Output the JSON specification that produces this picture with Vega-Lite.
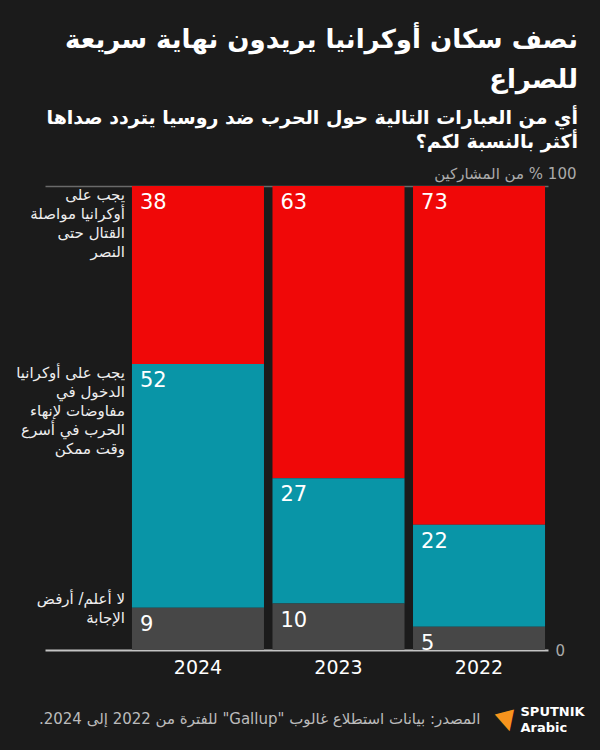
{
  "$schema": "https://vega.github.io/schema/vega-lite/v6.json",
  "autosize": {"type": "none"},
  "width": 503,
  "height": 464,
  "padding": {"left": 45, "top": 186, "right": 52, "bottom": 100},
  "background": "#1b1b1b",
  "config": {"view": {"stroke": null}, "font": "DejaVu Sans"},
  "title": {
    "text": ["نصف سكان أوكرانيا يريدون نهاية سريعة", "للصراع"],
    "subtitle": ["أي من العبارات التالية حول الحرب ضد روسيا يتردد صداها", "أكثر بالنسبة لكم؟"],
    "anchor": "end",
    "frame": "group",
    "dx": 30,
    "color": "#ffffff",
    "font": "DejaVu Sans",
    "fontSize": 26,
    "fontWeight": "bold",
    "lineHeight": 40,
    "subtitleColor": "#ffffff",
    "subtitleFont": "DejaVu Sans",
    "subtitleFontSize": 19,
    "subtitleFontWeight": "bold",
    "subtitleLineHeight": 24,
    "subtitlePadding": 16,
    "offset": 14
  },
  "data": {
    "values": [
      {"year": "2024", "category": "يجب على أوكرانيا مواصلة القتال حتى النصر", "label": "يجب على\nأوكرانيا مواصلة\nالقتال حتى\nالنصر", "order": 3, "value": 38},
      {"year": "2024", "category": "يجب على أوكرانيا الدخول في مفاوضات لإنهاء الحرب في أسرع وقت ممكن", "label": "يجب على أوكرانيا\nالدخول في\nمفاوضات لإنهاء\nالحرب في أسرع\nوقت ممكن", "order": 2, "value": 52},
      {"year": "2024", "category": "لا أعلم/ أرفض الإجابة", "label": "لا أعلم/ أرفض\nالإجابة", "order": 1, "value": 9},
      {"year": "2023", "category": "يجب على أوكرانيا مواصلة القتال حتى النصر", "label": "يجب على\nأوكرانيا مواصلة\nالقتال حتى\nالنصر", "order": 3, "value": 63},
      {"year": "2023", "category": "يجب على أوكرانيا الدخول في مفاوضات لإنهاء الحرب في أسرع وقت ممكن", "label": "يجب على أوكرانيا\nالدخول في\nمفاوضات لإنهاء\nالحرب في أسرع\nوقت ممكن", "order": 2, "value": 27},
      {"year": "2023", "category": "لا أعلم/ أرفض الإجابة", "label": "لا أعلم/ أرفض\nالإجابة", "order": 1, "value": 10},
      {"year": "2022", "category": "يجب على أوكرانيا مواصلة القتال حتى النصر", "label": "يجب على\nأوكرانيا مواصلة\nالقتال حتى\nالنصر", "order": 3, "value": 73},
      {"year": "2022", "category": "يجب على أوكرانيا الدخول في مفاوضات لإنهاء الحرب في أسرع وقت ممكن", "label": "يجب على أوكرانيا\nالدخول في\nمفاوضات لإنهاء\nالحرب في أسرع\nوقت ممكن", "order": 2, "value": 22},
      {"year": "2022", "category": "لا أعلم/ أرفض الإجابة", "label": "لا أعلم/ أرفض\nالإجابة", "order": 1, "value": 5}
    ]
  },
  "transform": [
    {"stack": "value", "groupby": ["year"], "sort": [{"field": "order", "order": "ascending"}], "offset": "normalize", "as": ["y0", "y1"]}
  ],
  "encoding": {
    "x": {
      "field": "year",
      "type": "nominal",
      "sort": ["2024", "2023", "2022"],
      "scale": {"paddingInner": 0.0605, "paddingOuter": 0.32, "align": 0.967},
      "title": "للفترة من 2022 إلى 2024.‏ \"Gallup\" المصدر: بيانات استطلاع غالوب",
      "axis": {
        "orient": "bottom",
        "labelAngle": 0,
        "labelColor": "#ffffff",
        "labelFont": "DejaVu Sans",
        "labelFontSize": 19,
        "labelPadding": 8,
        "titleX": 435,
        "titleY": 68,
        "titleAlign": "right",
        "titleBaseline": "middle",
        "titleColor": "#bbbbbb",
        "titleFont": "DejaVu Sans",
        "titleFontSize": 15,
        "titleFontWeight": "normal",
        "ticks": false,
        "domain": false,
        "grid": false
      }
    }
  },
  "layer": [
    {
      "mark": {"type": "bar"},
      "encoding": {
        "y": {
          "field": "y1",
          "type": "quantitative",
          "scale": {"domain": [0, 1], "nice": false},
          "axis": {
            "orient": "right",
            "values": [0, 1],
            "labelExpr": "datum.value == 1 ? '‏100 % من المشاركين' : '0'",
            "labelAlign": {"condition": {"test": "datum.value == 1", "value": "right"}, "value": "left"},
            "labelPadding": {"condition": {"test": "datum.value == 1", "value": 28}, "value": 7},
            "labelBaseline": {"condition": {"test": "datum.value == 1", "value": "bottom"}, "value": "middle"},
            "labelOffset": {"condition": {"test": "datum.value == 1", "value": -5}, "value": 0},
            "labelColor": "#aaaaaa",
            "labelFont": "DejaVu Sans",
            "labelFontSize": 15,
            "labelFlush": false,
            "labelOverlap": false,
            "ticks": false,
            "domain": false,
            "grid": true,
            "gridColor": {"condition": {"test": "datum.value == 0", "value": "#c4c4c4"}, "value": "#6a6a6a"},
            "gridWidth": {"condition": {"test": "datum.value == 0", "value": 2}, "value": 1.5},
            "title": ["SPUTNIK", "Arabic"],
            "titleAngle": 0,
            "titleX": -28,
            "titleY": 519,
            "titleAlign": "left",
            "titleBaseline": "top",
            "titleColor": "#ffffff",
            "titleFont": "DejaVu Sans",
            "titleFontSize": 13,
            "titleFontWeight": "bold",
            "titleLineHeight": 16
          }
        },
        "y2": {"field": "y0"},
        "color": {
          "field": "category",
          "type": "nominal",
          "scale": {
            "domain": ["يجب على أوكرانيا مواصلة القتال حتى النصر", "يجب على أوكرانيا الدخول في مفاوضات لإنهاء الحرب في أسرع وقت ممكن", "لا أعلم/ أرفض الإجابة"],
            "range": ["#f00808", "#0995a7", "#474747"]
          },
          "legend": null
        }
      }
    },
    {
      "mark": {"type": "text", "align": "left", "baseline": "top", "dx": -58, "dy": 6, "fontSize": 21, "color": "#ffffff", "font": "DejaVu Sans"},
      "encoding": {
        "y": {
          "field": "y1",
          "type": "quantitative",
          "axis": {
            "orient": "left",
            "labels": false,
            "ticks": false,
            "domain": false,
            "grid": false,
            "title": "▼",
            "titleAngle": 345,
            "titleX": 461,
            "titleY": 534,
            "titleAlign": "center",
            "titleBaseline": "middle",
            "titleColor": "#f7941d",
            "titleFont": "DejaVu Sans",
            "titleFontSize": 26,
            "titleFontWeight": "normal"
          }
        },
        "text": {"field": "value", "type": "quantitative"}
      }
    },
    {
      "transform": [{"filter": "datum.year == '2024' && datum.order > 1"}],
      "mark": {"type": "text", "align": "right", "baseline": "top", "dx": -73, "dy": 2, "fontSize": 15, "lineHeight": 19, "lineBreak": "\n", "color": "#eeeeee", "font": "DejaVu Sans"},
      "encoding": {
        "y": {"field": "y1", "type": "quantitative", "axis": null},
        "text": {"field": "label"}
      }
    },
    {
      "transform": [{"filter": "datum.year == '2024' && datum.order == 1"}],
      "mark": {"type": "text", "align": "right", "baseline": "top", "dx": -73, "dy": -16, "fontSize": 15, "lineHeight": 19, "lineBreak": "\n", "color": "#eeeeee", "font": "DejaVu Sans"},
      "encoding": {
        "y": {"field": "y1", "type": "quantitative", "axis": null},
        "text": {"field": "label"}
      }
    }
  ],
  "resolve": {"axis": {"y": "independent"}}
}
